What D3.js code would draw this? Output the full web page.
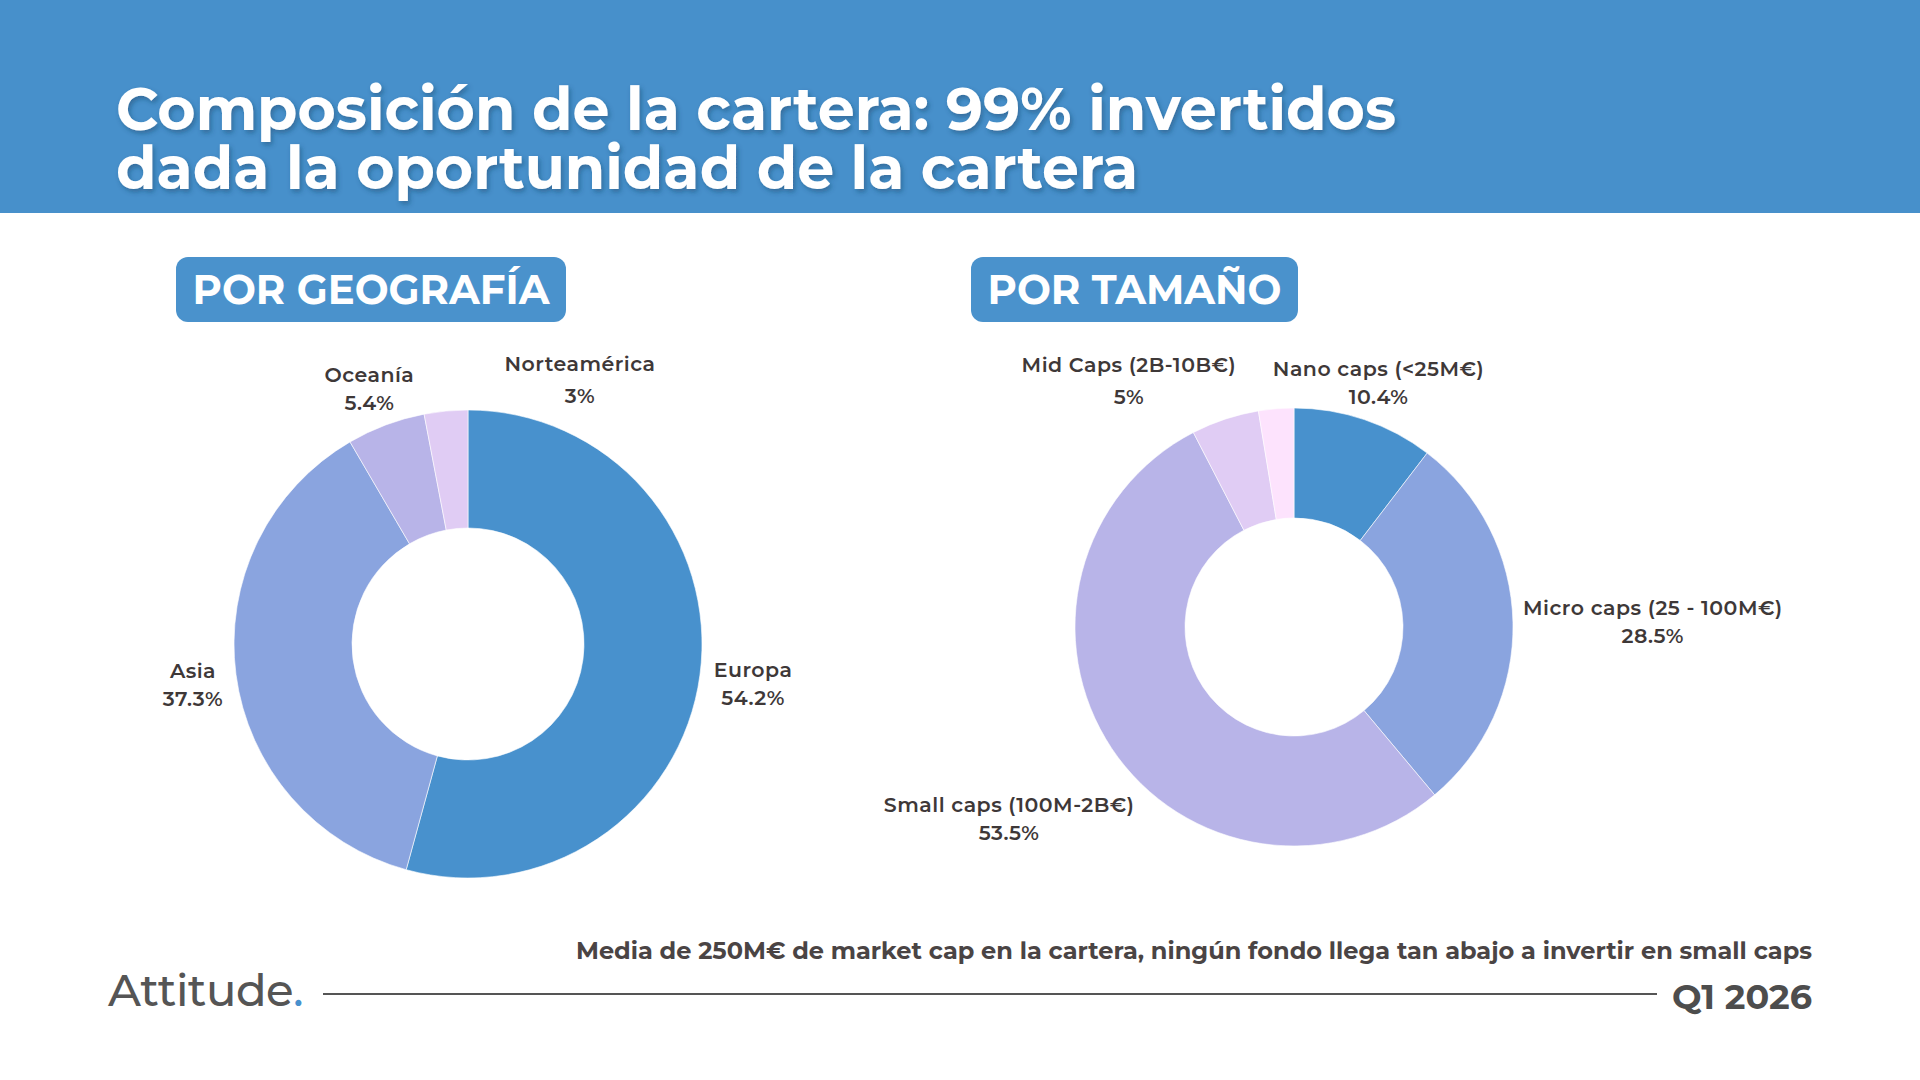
<!DOCTYPE html>
<html>
<head>
<meta charset="utf-8">
<script src="https://cdn.jsdelivr.net/npm/d3@7"></script>
<style>
  body { margin: 0; background: #fff; }
  text { font-family: Montserrat, "Open Sans", sans-serif; }
</style>
</head>
<body>
<div id="chart"></div>
<script>
// data
var geoCategories = ["Europa", "Asia", "Oceanía", "Norteamérica"];
var geoValues = [54.2, 37.3, 5.4, 3];

var sizeCategories = ["Nano caps (<25M€)", "Micro caps (25 - 100M€)", "Small caps (100M-2B€)", "Mid Caps (2B-10B€)", ""];
var sizeValues = [10.4, 28.5, 53.5, 5, 2.6];

var palette = ["#4891cd", "#8aa4df", "#b8b4e8", "#e0ccf4", "#fde3fd"];

var svgWidth = 1920, svgHeight = 1080;

var svg = d3.select("#chart")
  .append("svg")
  .attr("width", svgWidth)
  .attr("height", svgHeight);

var defs = svg.append("defs");
defs.append("filter").attr("id", "shadow")
  .attr("x", "-5%").attr("y", "-20%").attr("width", "110%").attr("height", "150%")
  .append("feDropShadow")
  .attr("dx", 2).attr("dy", 3).attr("stdDeviation", 2.5)
  .attr("flood-color", "#1c3f63").attr("flood-opacity", 0.45);

// header band
svg.append("rect")
  .attr("x", 0).attr("y", 0)
  .attr("width", svgWidth).attr("height", 213)
  .attr("fill", "#4790cb");

// title: one text block, two lines
var titleLines = ["Composición de la cartera: 99% invertidos", "dada la oportunidad de la cartera"];
var titleWidths = [1280, 1022];
svg.append("text")
  .attr("filter", "url(#shadow)")
  .attr("fill", "#fff")
  .attr("font-size", 61)
  .attr("font-weight", 700)
  .selectAll("tspan")
  .data(titleLines).enter()
  .append("tspan")
  .attr("x", 116)
  .attr("y", (d, i) => 130 + i * 59)
  .attr("textLength", (d, i) => titleWidths[i])
  .attr("lengthAdjust", "spacingAndGlyphs")
  .text(d => d);

// section badges
function badge(x, w, label, textW) {
  svg.append("rect")
    .attr("x", x).attr("y", 257)
    .attr("width", w).attr("height", 65)
    .attr("rx", 12)
    .attr("fill", "#4a92cc");
  svg.append("text")
    .attr("x", x + w / 2).attr("y", 304)
    .attr("text-anchor", "middle")
    .attr("textLength", textW)
    .attr("lengthAdjust", "spacingAndGlyphs")
    .attr("fill", "#fff")
    .attr("font-size", 41)
    .attr("font-weight", 700)
    .text(label);
}
badge(176, 390, "POR GEOGRAFÍA", 357);
badge(971, 327, "POR TAMAÑO", 294);

// donut
function donut(cfg) {
  var data = cfg.categories.map((c, i) => ({ name: c, v: cfg.values[i] }));
  var color = d3.scaleOrdinal().domain(d3.range(data.length)).range(palette);
  var pie = d3.pie().sort(null).value(d => d.v);
  var arc = d3.arc().innerRadius(cfg.inner).outerRadius(cfg.outer);
  var arcs = pie(data);

  var g = svg.append("g")
    .attr("transform", `translate(${cfg.cx}, ${cfg.cy})`);

  g.selectAll("path")
    .data(arcs).enter()
    .append("path")
    .attr("d", arc)
    .attr("fill", (d, i) => color(i))
    .attr("stroke", "#fff")
    .attr("stroke-width", 0.6);

  // labels: put outside the ring at the slice mid angle
  var gap = 10, lineGap = 28;
  arcs.forEach((d, i) => {
    if (!d.data.name) return;
    var a = (d.startAngle + d.endAngle) / 2;
    var px = Math.sin(a) * (cfg.outer + gap);
    var py = -Math.cos(a) * (cfg.outer + gap);
    var lg = g.append("g");
    var t1 = lg.append("text").text(d.data.name);
    var t2 = lg.append("text").text(d.data.v + "%");
    lg.selectAll("text")
      .attr("text-anchor", "middle")
      .attr("font-size", 20.5)
      .attr("font-weight", 600)
      .attr("letter-spacing", 0.5)
      .attr("fill", "#3e3838");
    var w = Math.max(t1.node().getComputedTextLength(), t2.node().getComputedTextLength());
    var cx, y1;
    if (Math.abs(Math.sin(a)) >= 0.5) {
      cx = px + (Math.sin(a) > 0 ? w / 2 : -w / 2);
      y1 = py - 2;
    } else {
      cx = px;
      y1 = py - 6 - lineGap;
    }
    var n = cfg.nudge[i] || [0, 0];
    t1.attr("x", cx + n[0]).attr("y", y1 + n[1]);
    t2.attr("x", cx + n[0]).attr("y", y1 + n[1] + lineGap + (n[2] || 0));
  });
}

donut({
  categories: geoCategories, values: geoValues,
  cx: 468, cy: 644, outer: 234, inner: 116,
  nudge: [[4, 2], [-3, 4], [-13, 0], [135, 4, 4]]
});

donut({
  categories: sizeCategories, values: sizeValues,
  cx: 1294, cy: 627, outer: 219, inner: 109,
  nudge: [[11, 0], [0, -5], [31, 60], [-93, -4, 4]]
});

// footer
svg.append("text")
  .attr("x", 1812).attr("y", 959)
  .attr("text-anchor", "end")
  .attr("textLength", 1236)
  .attr("lengthAdjust", "spacingAndGlyphs")
  .attr("font-size", 23)
  .attr("font-weight", 700)
  .attr("fill", "#4a4444")
  .text("Media de 250M€ de market cap en la cartera, ningún fondo llega tan abajo a invertir en small caps");

var logo = svg.append("text")
  .attr("x", 108).attr("y", 1006)
  .attr("font-size", 45)
  .attr("font-weight", 500)
  .attr("letter-spacing", -0.5)
  .attr("fill", "#555");
logo.append("tspan").text("Attitude");
logo.append("tspan").attr("fill", "#4891cd").text(".");

svg.append("line")
  .attr("x1", 323).attr("x2", 1657)
  .attr("y1", 994).attr("y2", 994)
  .attr("stroke", "#555")
  .attr("stroke-width", 2);

svg.append("text")
  .attr("x", 1812).attr("y", 1009)
  .attr("text-anchor", "end")
  .attr("font-size", 35)
  .attr("font-weight", 700)
  .attr("fill", "#4d4d4d")
  .text("Q1 2026");
</script>
</body>
</html>
